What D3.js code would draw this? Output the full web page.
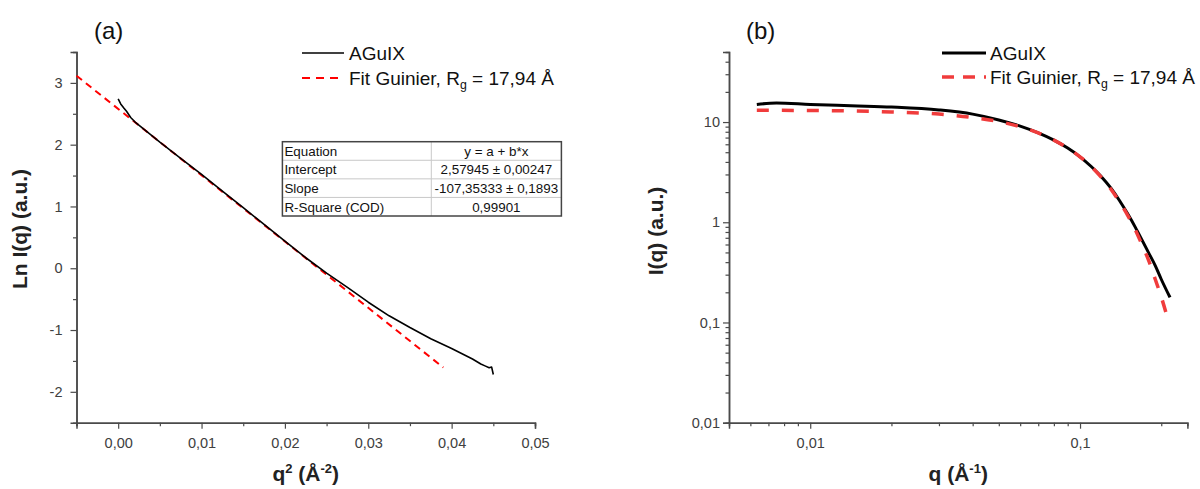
<!DOCTYPE html>
<html><head><meta charset="utf-8">
<script src="https://cdn.jsdelivr.net/npm/d3@7"></script>
<style>
body{margin:0;background:#fff}
svg{display:block}
text{font-family:"Liberation Sans",Arial,sans-serif}
</style>
</head><body>
<svg id="c" width="1200" height="489"></svg>
<script>
// ---------- data ----------
// Panel (a): Guinier plot, Ln I(q) vs q^2
const qSqAGuIX = [0.0000,0.0003,0.0007,0.0010,0.0015,0.0020,0.0030,0.0050,0.0075,0.0100,0.0125,0.0150,0.0175,0.0200,0.0225,0.0250,0.0275,0.0300,0.0325,0.0350,0.0375,0.0400,0.0425,0.0435,0.0440,0.0445,0.0448,0.0450];
const lnIAGuIX = [2.74,2.66,2.59,2.54,2.44,2.37,2.26,2.04,1.78,1.52,1.25,0.98,0.71,0.44,0.17,-0.08,-0.31,-0.55,-0.77,-0.96,-1.14,-1.30,-1.47,-1.55,-1.58,-1.61,-1.60,-1.72];
const qSqFit = [-0.005,0.039];
const lnIFit = [3.116,-1.607];
const xTicksA = [0,0.01,0.02,0.03,0.04,0.05];
const yTicksA = [-2,-1,0,1,2,3];
const tableRows = ["Equation","Intercept","Slope","R-Square (COD)"];
const tableVals = ["y = a + b*x","2,57945 \u00b1 0,00247","-107,35333 \u00b1 0,1893","0,99901"];
// Panel (b): I(q) vs q, log-log
const qAGuIX = [0.00634,0.0075,0.0100,0.0150,0.0200,0.0300,0.0400,0.0500,0.0600,0.0700,0.0800,0.0900,0.1000,0.1100,0.1200,0.1300,0.1400,0.1500,0.1600,0.1700,0.1800,0.1900,0.2000,0.2155];
const IAGuIX = [15.0,15.5,15.0,14.5,14.1,13.2,12.0,10.5,9.1,7.8,6.6,5.5,4.5,3.6,2.85,2.2,1.65,1.22,0.9,0.66,0.49,0.37,0.27,0.178];
const qFit = [0.00634,0.0100,0.0200,0.0300,0.0400,0.0500,0.0600,0.0700,0.0800,0.0900,0.1000,0.1100,0.1200,0.1300,0.1400,0.1500,0.1600,0.1700,0.1800,0.1900,0.2000,0.2106];
const IFit = [13.1,13.05,12.6,12.0,11.1,10.1,9.0,7.8,6.6,5.5,4.5,3.6,2.8,2.15,1.6,1.18,0.85,0.59,0.41,0.27,0.18,0.113];
const xTicksB = [0.01,0.1];
const yTicksB = [0.01,0.1,1,10];
const seriesNames = ["AGuIX","Fit Guinier, R"];

// ---------- setup ----------
const svg = d3.select("#c");
const loc = d3.formatLocale({decimal:",",thousands:".",grouping:[3],currency:["",""],minus:"-"});
const axisCol = "#4a4a4a", labCol = "#404040";
const tickFont = 14.5;

function styleAxis(g){
  g.select(".domain").attr("stroke",axisCol).attr("stroke-width",1.5);
  g.selectAll(".tick line").attr("stroke",axisCol).attr("stroke-width",1.2);
  g.selectAll(".tick text").attr("fill",labCol).style("font-size",tickFont+"px").style("font-family",'"Liberation Sans",Arial,sans-serif');
}

// ---------- panel (a) ----------
const A = {l:76.5, r:535, t:52, b:422.7};
const xA = d3.scaleLinear().domain([-0.005,0.05]).range([A.l,A.r]);
const yA = d3.scaleLinear().domain([-2.5,3.5]).range([A.b,A.t]);

svg.append("g").attr("transform",`translate(0,${A.b})`)
  .call(d3.axisBottom(xA).tickValues(d3.range(-0.005,0.0501,0.005).filter(v=>Math.abs(Math.round(v*200)%2)===1)).tickSize(3.5).tickFormat(""))
  .call(styleAxis);
svg.append("g").attr("transform",`translate(${A.l},0)`)
  .call(d3.axisLeft(yA).tickValues([-1.5,-0.5,0.5,1.5,2.5]).tickSize(3.5).tickFormat(""))
  .call(styleAxis);
svg.append("g").attr("transform",`translate(0,${A.b})`)
  .call(d3.axisBottom(xA).tickValues(xTicksA).tickSize(6).tickPadding(9).tickFormat(loc.format(".2f")))
  .call(styleAxis);
svg.append("g").attr("transform",`translate(${A.l},0)`)
  .call(d3.axisLeft(yA).tickValues(yTicksA).tickSize(6).tickPadding(8).tickFormat(loc.format("d")))
  .call(styleAxis);

const lineA = d3.line().x(d=>xA(d[0])).y(d=>yA(d[1]));
svg.append("path").datum(d3.zip(qSqFit,lnIFit)).attr("d",lineA)
  .attr("fill","none").attr("stroke","#ff0000").attr("stroke-width",2).attr("stroke-dasharray","7,5");
svg.append("path").datum(d3.zip(qSqAGuIX,lnIAGuIX)).attr("d",lineA)
  .attr("fill","none").attr("stroke","#000").attr("stroke-width",1.6).attr("stroke-linejoin","round");

svg.append("text").attr("x",94).attr("y",39).text("(a)").style("font-size","24px").attr("fill","#111");
const tA = svg.append("text").attr("x",(A.l+A.r)/2).attr("y",481).attr("text-anchor","middle")
  .style("font-size","21px").style("font-weight","bold").attr("fill","#222");
tA.append("tspan").text("q");
tA.append("tspan").text("2").style("font-size","13px").attr("dy",-8);
tA.append("tspan").text(" (\u00c5").attr("dy",8);
tA.append("tspan").text("-2").style("font-size","13px").attr("dy",-8);
tA.append("tspan").text(")").attr("dy",8);
svg.append("text").attr("transform",`translate(27,229) rotate(-90)`).attr("text-anchor","middle")
  .style("font-size","21px").style("font-weight","bold").attr("fill","#222").text("Ln I(q) (a.u.)");

function legend(x0,x1,tx,y1,y2,blackW,redW,redCol,dash,fs){
  svg.append("line").attr("x1",x0).attr("x2",x1).attr("y1",y1).attr("y2",y1).attr("stroke","#000").attr("stroke-width",blackW);
  svg.append("text").attr("x",tx).attr("y",y1+7).style("font-size",fs+"px").attr("fill","#111").text(seriesNames[0]);
  svg.append("line").attr("x1",x0).attr("x2",x1).attr("y1",y2).attr("y2",y2).attr("stroke",redCol).attr("stroke-width",redW).attr("stroke-dasharray",dash);
  const t = svg.append("text").attr("x",tx).attr("y",y2+7).style("font-size",fs+"px").attr("fill","#111");
  t.append("tspan").text(seriesNames[1]);
  t.append("tspan").text("g").style("font-size",(fs*0.65)+"px").attr("dy",4);
  t.append("tspan").text(" = 17,94 \u00c5").attr("dy",-4);
}
legend(302,344,349,53,78,1.6,2,"#ff0000","8,6",19);

// fit table
const T = {l:282.4, r:561.4, t:141.7, b:216, mid:431.3};
const rh = (T.b-T.t)/tableRows.length;
const tg = svg.append("g");
tableRows.forEach((r,i)=>{
  if(i>0) tg.append("line").attr("x1",T.l).attr("x2",T.r).attr("y1",T.t+i*rh).attr("y2",T.t+i*rh).attr("stroke","#c8c8c8").attr("stroke-width",1);
  tg.append("text").attr("x",T.l+2).attr("y",T.t+i*rh+rh/2+4.8).style("font-size","13.4px").attr("fill","#111").text(r);
  tg.append("text").attr("x",(T.mid+T.r)/2).attr("y",T.t+i*rh+rh/2+4.8).attr("text-anchor","middle").style("font-size","13.4px").attr("fill","#111").text(tableVals[i]);
});
tg.append("line").attr("x1",T.mid).attr("x2",T.mid).attr("y1",T.t).attr("y2",T.b).attr("stroke","#c8c8c8").attr("stroke-width",1);
tg.append("rect").attr("x",T.l).attr("y",T.t).attr("width",T.r-T.l).attr("height",T.b-T.t).attr("fill","none").attr("stroke","#444").attr("stroke-width",1.5);

// ---------- panel (b) ----------
const B = {l:729, r:1187.4, t:52, b:422.7};
const xB = d3.scaleLog().domain([0.005,0.25]).range([B.l,B.r]);
const yB = d3.scaleLog().domain([0.01,50]).range([B.b,B.t]);
const minorX = [], minorY = [];
[0.001,0.01,0.1].forEach(p=>{for(let k=2;k<=9;k++){const v=+(k*p).toPrecision(3); if(v>0.005&&v<0.25&&v!==0.01&&v!==0.1) minorX.push(v);}});
[0.01,0.1,1,10].forEach(p=>{for(let k=2;k<=9;k++){const v=+(k*p).toPrecision(3); if(v<50) minorY.push(v);}});
svg.append("g").attr("transform",`translate(0,${B.b})`)
  .call(d3.axisBottom(xB).tickValues(minorX).tickSize(3.5).tickFormat(""))
  .call(styleAxis);
svg.append("g").attr("transform",`translate(${B.l},0)`)
  .call(d3.axisLeft(yB).tickValues(minorY).tickSize(3.5).tickFormat(""))
  .call(styleAxis);
const commaFmt = d=>String(d).replace(".",",");
svg.append("g").attr("transform",`translate(0,${B.b})`)
  .call(d3.axisBottom(xB).tickValues(xTicksB).tickSize(6).tickPadding(9).tickFormat(commaFmt))
  .call(styleAxis);
svg.append("g").attr("transform",`translate(${B.l},0)`)
  .call(d3.axisLeft(yB).tickValues(yTicksB).tickSize(6).tickPadding(3).tickFormat(commaFmt))
  .call(styleAxis);

const lineB = d3.line().x(d=>xB(d[0])).y(d=>yB(d[1])).curve(d3.curveMonotoneX);
svg.append("path").datum(d3.zip(qAGuIX,IAGuIX)).attr("d",lineB)
  .attr("fill","none").attr("stroke","#000").attr("stroke-width",3).attr("stroke-linejoin","round");
svg.append("path").datum(d3.zip(qFit,IFit)).attr("d",lineB)
  .attr("fill","none").attr("stroke","#f03c3c").attr("stroke-width",3.5).attr("stroke-dasharray","12,13");

svg.append("text").attr("x",746).attr("y",39).text("(b)").style("font-size","24px").attr("fill","#111");
const tB = svg.append("text").attr("x",(B.l+B.r)/2).attr("y",481).attr("text-anchor","middle")
  .style("font-size","21px").style("font-weight","bold").attr("fill","#222");
tB.append("tspan").text("q (\u00c5");
tB.append("tspan").text("-1").style("font-size","13px").attr("dy",-8);
tB.append("tspan").text(")").attr("dy",8);
svg.append("text").attr("transform",`translate(663,231) rotate(-90)`).attr("text-anchor","middle")
  .style("font-size","21px").style("font-weight","bold").attr("fill","#222").text("I(q) (a.u.)");

legend(942,986,990,53,77,3,3.5,"#f03c3c","12,9",19);
</script>
</body></html>
